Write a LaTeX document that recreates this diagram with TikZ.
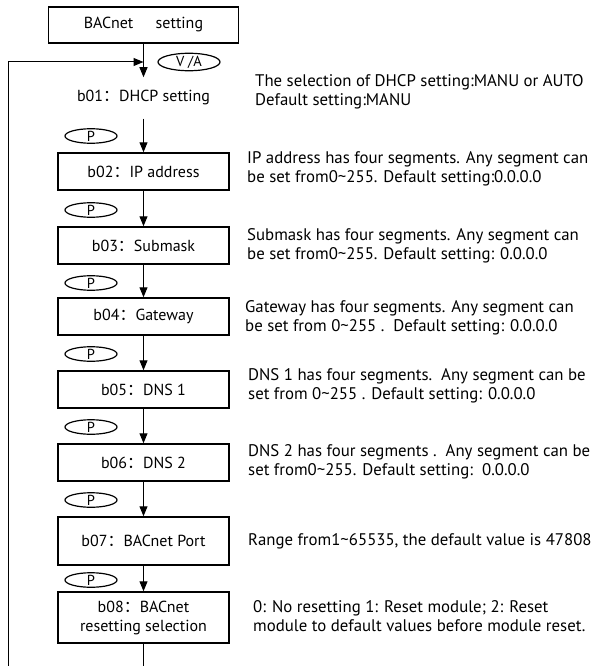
\documentclass[tikz,border=0pt]{standalone}
\usepackage{fontspec}
\setmainfont{PT Sans}
\newfontfamily\cjk{Noto Sans CJK SC}
\usetikzlibrary{shapes.geometric,arrows.meta}
\newcommand{\cc}{{\cjk ：}}
\newcommand{\tld}{\textasciitilde}
\begin{document}
\begin{tikzpicture}[x=1pt,y=-1pt,
  box/.style={draw, line width=1.5pt, minimum width=171pt, minimum height=37pt, inner sep=0pt, align=center, font=\fontsize{16}{19}\selectfont},
  key/.style={draw, ellipse, line width=1.2pt, minimum width=52pt, minimum height=14pt, inner sep=0pt, font=\fontsize{14.5}{14}\selectfont},
  note/.style={anchor=west, align=left, inner sep=0pt, font=\fontsize{16.8}{19.5}\selectfont},
  conn/.style={line width=1pt, -{Triangle[length=10pt,width=8pt]}},
  plain/.style={line width=1pt}]
\useasboundingbox (0,0) rectangle (598,666);

\node[box, minimum width=190pt, minimum height=36pt] (top) at (143.5,25) {BACnet\hspace{1.4em}setting};
\node[box, draw=none, minimum height=40pt] (b01) at (143.5,98) {b01\cc DHCP setting};
\node[box] (b02) at (143.5,171.5) {b02\cc IP address};
\node[box] (b03) at (143.5,245.5) {b03\cc Submask};
\node[box] (b04) at (143.5,316.5) {b04\cc Gateway};
\node[box] (b05) at (143.5,389.5) {b05\cc DNS 1};
\node[box] (b06) at (143.5,462.5) {b06\cc DNS 2};
\node[box, minimum height=48pt] (b07) at (143.5,541) {b07\cc BACnet Port};
\node[box, minimum height=51pt] (b08) at (143.5,617.5) {b08\cc BACnet\\resetting selection};

\node[key, minimum width=62pt, minimum height=15pt] (va) at (189,62) {V /A};
\node[key] (p1) at (91,136) {P};
\node[key] (p2) at (91,210) {P};
\node[key] (p3) at (91,283) {P};
\node[key] (p4) at (91,354) {P};
\node[key] (p5) at (91,427) {P};
\node[key] (p6) at (91,500) {P};
\node[key] (p7) at (91,580) {P};

\node[note] (n1) at (255,92) {The selection of DHCP setting:MANU or AUTO\\Default setting:MANU};
\node[note] (n2) at (247,169) {IP address has four segments. Any segment can\\be set from0\tld255. Default setting:0.0.0.0};
\node[note] (n3) at (247,246) {Submask has four segments. Any segment can\\be set from0\tld255. Default setting: 0.0.0.0};
\node[note] (n4) at (245,318) {Gateway has four segments. Any segment can\\be set from 0\tld255 .\ \ Default setting: 0.0.0.0};
\node[note] (n5) at (248,386) {DNS 1 has four segments.\ \ Any segment can be\\set from 0\tld255 . Default setting: 0.0.0.0};
\node[note] (n6) at (248,462) {DNS 2 has four segments .\ \ Any segment can be\\set from0\tld255. Default setting:\ \ 0.0.0.0};
\node[note] (n7) at (248,541) {Range from1\tld65535, the default value is 47808};
\node[note] (n8) at (253,616) {0: No resetting 1: Reset module; 2: Reset\\module to default values before module reset.};

\coordinate (join) at (143.5,62);
\coordinate (bot) at (143.5,666);
\coordinate (corner) at (8,666);
\coordinate (up) at (8,62);

\draw[conn] (top.south) -- (b01.north);
\draw[conn] (b01.south) -- (b02.north);
\draw[conn] (b02.south) -- (b03.north);
\draw[conn] (b03.south) -- (b04.north);
\draw[conn] (b04.south) -- (b05.north);
\draw[conn] (b05.south) -- (b06.north);
\draw[conn] (b06.south) -- (b07.north);
\draw[conn] (b07.south) -- (b08.north);
\draw[plain] (b08.south) -- (bot);
\draw[conn] (corner) -- (up) -- (join);
\end{tikzpicture}
\end{document}
